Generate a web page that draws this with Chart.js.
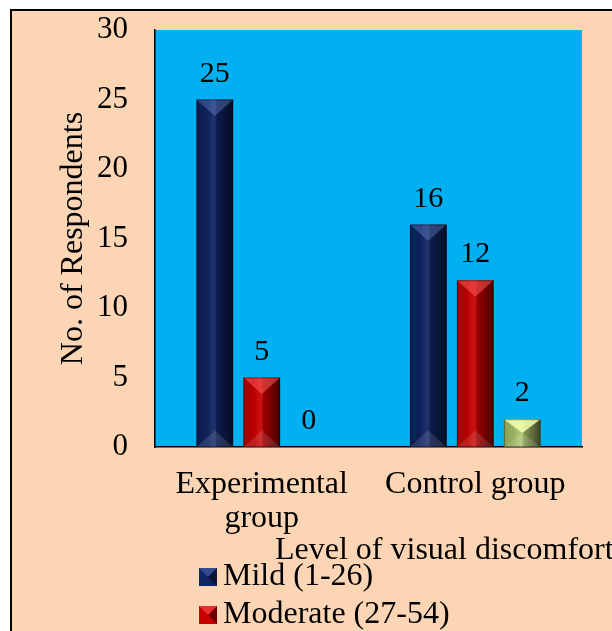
<!DOCTYPE html>
<html>
<head>
<meta charset="utf-8">
<title>Level of visual discomfort</title>
<script src="https://cdn.jsdelivr.net/npm/chart.js@4.4.0/dist/chart.umd.min.js"></script>
<style>
  html, body { margin: 0; padding: 0; background: #fff; overflow: hidden; }
  #frame {
    position: absolute; left: 10px; top: 9px; width: 640px; height: 660px;
    background: #FCD5B4; border-left: 2px solid #000; border-top: 2px solid #000;
  }
  #wrap { position: absolute; left: 0; top: 0; width: 600px; height: 620px; }
</style>
</head>
<body>
<div id="frame"><div id="wrap"><canvas id="barChart"></canvas></div></div>
<script>
// data
const groups = [["Experimental", "group"], "Control group"];
const mild = [25, 16];
const moderate = [5, 12];
const severe = [0, 2];
const seriesNames = ["Mild (1-26)", "Moderate (27-54)", "Severe (55-80)"];
const yTicks = [0, 5, 10, 15, 20, 25, 30];

const SERIF = '"Liberation Serif", "Times New Roman", serif';
const colors = ["#0F2462", "#C80000", "#A9C46A"];
const tops = ["rgba(120,150,220,0.35)", "rgba(255,90,90,0.55)", "rgba(245,255,170,0.85)"];

// plot background
const plotBg = {
  id: "plotBg",
  beforeDraw(chart) {
    const { ctx, chartArea: a } = chart;
    ctx.save();
    ctx.fillStyle = "#00B0F0";
    ctx.fillRect(a.left, a.top, a.right - a.left, a.bottom - a.top);
    ctx.restore();
  },
};

// bevel shading + value labels
const bevel = {
  id: "bevel",
  afterDatasetsDraw(chart) {
    const ctx = chart.ctx;
    chart.data.datasets.forEach((ds, di) => {
      chart.getDatasetMeta(di).data.forEach((bar, i) => {
        const w = bar.width, l = bar.x - w / 2, r = bar.x + w / 2;
        const t = bar.y, b = bar.base;
        if (b - t > 0.5) {
          ctx.save();
          const g = ctx.createLinearGradient(l, 0, r, 0);
          g.addColorStop(0, "rgba(0,0,0,0.2)");
          g.addColorStop(0.3, "rgba(0,0,0,0.08)");
          g.addColorStop(0.45, "rgba(255,255,255,0.06)");
          g.addColorStop(0.55, "rgba(0,0,0,0.22)");
          g.addColorStop(1, "rgba(0,0,0,0.65)");
          ctx.fillStyle = g;
          ctx.fillRect(l, t, w, b - t);
          const d = Math.min(w * 0.45, (b - t) / 2);
          ctx.fillStyle = "rgba(255,255,255,0.12)";
          ctx.beginPath();
          ctx.moveTo(l, b); ctx.lineTo(r, b); ctx.lineTo(bar.x, b - d); ctx.closePath();
          ctx.fill();
          ctx.fillStyle = tops[di];
          ctx.beginPath();
          ctx.moveTo(l, t); ctx.lineTo(r, t); ctx.lineTo(bar.x, t + d); ctx.closePath();
          ctx.fill();
          ctx.strokeStyle = "rgba(0,0,0,0.35)";
          ctx.lineWidth = 1;
          ctx.strokeRect(l + 0.5, t + 0.5, w - 1, b - t - 1);
          ctx.restore();
        }
        ctx.save();
        ctx.fillStyle = "#000";
        ctx.font = "30px " + SERIF;
        ctx.textAlign = "center";
        ctx.textBaseline = "alphabetic";
        ctx.fillText(String(ds.data[i]), bar.x, t - 18);
        ctx.restore();
      });
    });
  },
};

// axis title + vertical legend below
const extras = {
  id: "extras",
  afterDraw(chart) {
    const ctx = chart.ctx;
    ctx.save();
    ctx.fillStyle = "#000";
    ctx.font = "32px " + SERIF;
    ctx.textBaseline = "alphabetic";
    ctx.textAlign = "left";
    ctx.fillText("Level of visual discomfort", 263, 548);
    chart.data.datasets.forEach((ds, di) => {
      const y = 557 + di * 38;
      ctx.fillStyle = ds.backgroundColor;
      ctx.fillRect(187, y, 18, 18);
      ctx.fillStyle = "rgba(0,0,0,0.45)";
      ctx.beginPath();
      ctx.moveTo(205, y); ctx.lineTo(205, y + 18); ctx.lineTo(196, y + 9); ctx.closePath();
      ctx.fill();
      ctx.fillStyle = tops[di];
      ctx.beginPath();
      ctx.moveTo(187, y); ctx.lineTo(205, y); ctx.lineTo(196, y + 9); ctx.closePath();
      ctx.fill();
      ctx.fillStyle = "#000";
      ctx.fillText(ds.label, 211, y + 17);
    });
    ctx.restore();
  },
};

const ctx = document.getElementById("barChart").getContext("2d");
new Chart(ctx, {
  type: "bar",
  data: {
    labels: groups,
    datasets: [
      { label: seriesNames[0], data: mild, backgroundColor: colors[0] },
      { label: seriesNames[1], data: moderate, backgroundColor: colors[1] },
      { label: seriesNames[2], data: severe, backgroundColor: colors[2] },
    ],
  },
  options: {
    responsive: true,
    maintainAspectRatio: false,
    animation: false,
    categoryPercentage: 0.66,
    barPercentage: 0.78,
    layout: { padding: { left: 0, right: 30, top: 19, bottom: 0 } },
    plugins: { legend: { display: false }, tooltip: { enabled: false } },
    scales: {
      x: {
        grid: { display: false, drawTicks: false },
        border: { display: true, color: "#000", width: 1.5 },
        ticks: { padding: 21, color: "#000", font: { family: SERIF, size: 32, lineHeight: 1.05 } },
        afterFit(s) { s.height = 184; },
      },
      y: {
        min: 0,
        max: 30,
        afterBuildTicks(s) { s.ticks = yTicks.map(v => ({ value: v })); },
        // tick length used as the label gap (ticks not drawn), keeps top padding small
        grid: { display: false, drawTicks: true, tickLength: 27, color: "rgba(0,0,0,0)" },
        border: { display: true, color: "#000", width: 1.5 },
        ticks: { padding: 0, color: "#000", font: { family: SERIF, size: 31 } },
        title: {
          display: true,
          text: "No. of Respondents",
          color: "#000",
          font: { family: SERIF, size: 32 },
          padding: { top: 42, bottom: 0 },
        },
        afterFit(s) { s.width = 143; },
      },
    },
  },
  plugins: [plotBg, bevel, extras],
});
</script>
</body>
</html>
